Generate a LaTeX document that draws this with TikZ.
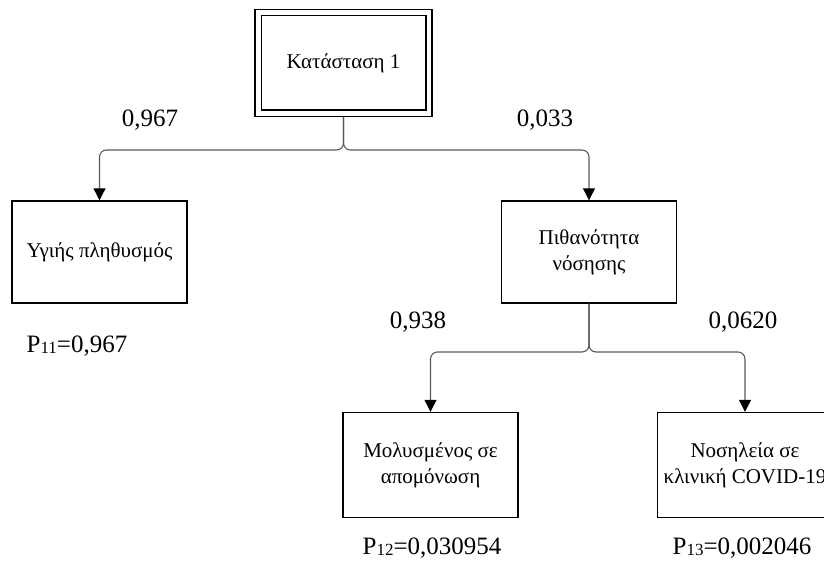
\documentclass[tikz,border=0pt]{standalone}
\usepackage{fontspec}
\setmainfont{Liberation Serif}
\usetikzlibrary{arrows.meta}
\newcommand{\idx}[1]{{\fontsize{17}{17}\selectfont\raisebox{-1.5pt}{#1}}}
\begin{document}
\begin{tikzpicture}[x=1pt,y=-1pt,
  box/.style={draw=black, line width=1.4pt, minimum width=175pt, minimum height=102pt,
    align=center, font=\fontsize{21}{26}\selectfont, inner sep=0pt},
  link/.style={draw=black!65, line width=1.1pt, rounded corners=7pt,
    -{Triangle[length=12pt,width=12pt,black]}},
  prob/.style={font=\fontsize{25}{30}\selectfont, inner sep=0pt},
  result/.style={font=\fontsize{25}{30}\selectfont, inner sep=0pt}]
  \useasboundingbox (0,0) rectangle (824,563);
  \clip (0,0) rectangle (824,563);

  % root state with a double frame
  \node[box, line width=1.1pt, minimum width=177pt, minimum height=107pt] (state) at (343.5,63) {Κατάσταση 1};
  \draw[line width=1.8pt] ([xshift=7pt,yshift=-6.5pt]state.north west) rectangle ([xshift=-6.5pt,yshift=7pt]state.south east);

  % second level
  \node[box] (healthy) at (99.5,252) {Υγιής πληθυσμός};
  \node[box] (illness) at (589,252) {Πιθανότητα\\νόσησης};

  % third level
  \node[box, minimum height=105pt] (isolated) at (430.5,465) {Μολυσμένος σε\\απομόνωση};
  \node[box, minimum height=105pt] (clinic) at (745,465) {Νοσηλεία σε\\κλινική COVID-19};

  % branch points
  \coordinate (j1) at (343.5,150);
  \coordinate (j2) at (589,352);

  \draw[link] (state.south) |- (healthy.north |- j1) -- (healthy.north);
  \draw[link] (state.south) |- (illness.north |- j1) -- (illness.north);
  \draw[link] (illness.south) |- (isolated.north |- j2) -- (isolated.north);
  \draw[link] (illness.south) |- (clinic.north |- j2) -- (clinic.north);

  % branch probabilities
  \node[prob] (p1) at (150,120) {0,967};
  \node[prob] (p2) at (545,120) {0,033};
  \node[prob] (p3) at (418,322) {0,938};
  \node[prob] (p4) at (743,322) {0,0620};

  % outcome probabilities
  \node[result] (r1) at (77,346) {P\idx{11}=0,967};
  \node[result] (r2) at (432,548) {P\idx{12}=0,030954};
  \node[result] (r3) at (742,548) {P\idx{13}=0,002046};
\end{tikzpicture}
\end{document}
